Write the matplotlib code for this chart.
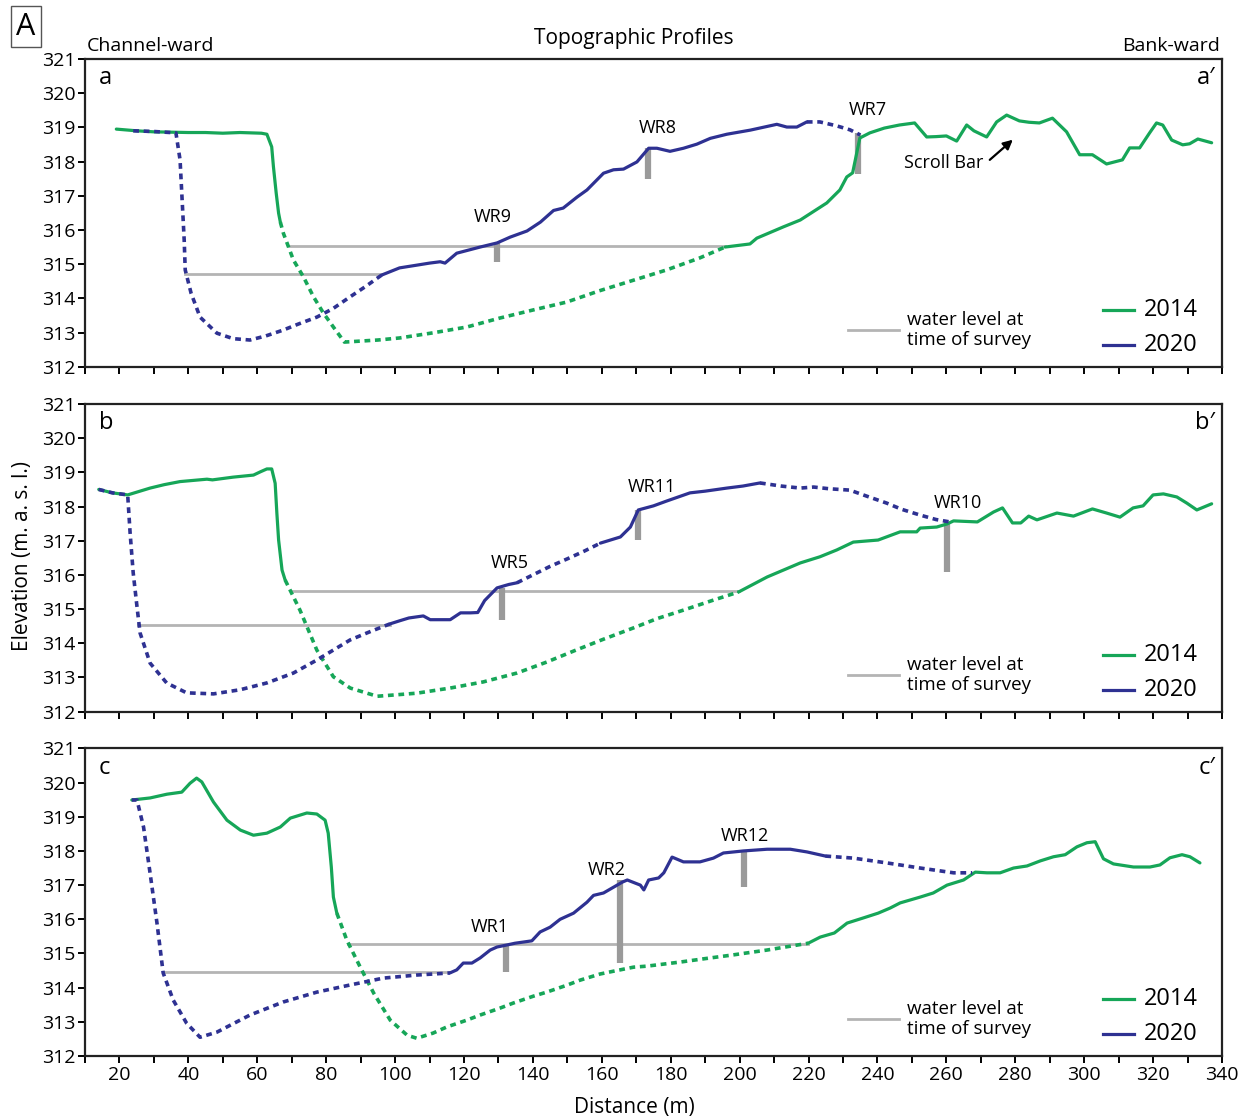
import matplotlib
matplotlib.use("Agg")
import matplotlib.pyplot as plt
import numpy as np

plt.rcParams['font.family'] = ['Open Sans', 'DejaVu Sans']

GREEN = '#16a658'
BLUE = '#2e3192'
WATER = '#b4b4b4'
BAR = '#9a9a9a'

# ---- panel a (2014 / 2020 surveys) ----
a14_x = [19.1, 25, 30, 35, 40, 45, 50, 55, 61.2, 62.8, 64.2, 64.7, 65.5, 66.2, 66.7,
         67.6, 70.5, 73.4, 76.3, 79.2, 82.1, 85.3, 95, 101.3, 111, 120.8, 130.3, 140.1,
         149.8, 159.3, 169.2, 178.8, 188.4, 195.8,
         203, 205, 212.7, 217.6, 225.3, 229.1, 231.1, 232.8, 234.9, 237.8, 242, 246.4,
         250.8, 254.3, 257, 260, 263, 265.9, 268, 271.7, 274.6, 277.5, 281.2, 284, 287,
         290.8, 294.9, 298.7, 302.4, 306.5, 311.1, 313.2, 316.1, 319, 321, 322.8, 325.4,
         328.6, 330.6, 333, 337]
a14_y = [318.95, 318.9, 318.87, 318.86, 318.85, 318.85, 318.83, 318.85, 318.83, 318.8,
         318.43, 317.85, 317.08, 316.49, 316.23,
         315.9, 315.12, 314.63, 314.05, 313.57, 313.16, 312.72, 312.78, 312.84, 312.99,
         313.16, 313.42, 313.66, 313.89, 314.22, 314.53, 314.83, 315.18, 315.5,
         315.59, 315.76, 316.09, 316.29, 316.79, 317.17, 317.55, 317.67, 318.69, 318.84,
         318.98, 319.07, 319.13, 318.72, 318.73, 318.75, 318.6, 319.07, 318.9, 318.72,
         319.16, 319.36, 319.19, 319.15, 319.13, 319.27, 318.87, 318.2, 318.2, 317.93,
         318.05, 318.4, 318.4, 318.84, 319.13, 319.07, 318.63, 318.49, 318.52, 318.66,
         318.55]
a14_dotted = [(66.7, 195.8)]

a20_x = [24, 30, 36.4, 37.6, 38.2, 38.8, 39.1, 40.8, 43.4, 48.3, 53, 57.9, 62.5, 67.5,
         72, 77.3, 82, 86.9, 91.5, 96.1,
         101.3, 106.3, 110, 113.1, 114.5, 117.9, 124.7, 129.6, 133.4, 138.3, 142.2, 146,
         148.8, 152.8, 155.7, 160.5, 163.4, 166.3, 170.2, 173.6, 176, 179.8, 183.7, 187.6,
         191.5, 196.3, 203.1, 210.8, 213.7, 216.6, 219.5,
         223.3, 228, 232, 235]
a20_y = [318.9, 318.88, 318.84, 318.05, 316.88, 315.7, 314.83, 314.15, 313.45, 312.98,
         312.82, 312.78, 312.9, 313.07, 313.25, 313.45, 313.7, 314.04, 314.35, 314.68,
         314.89, 314.97, 315.03, 315.07, 315.03, 315.32, 315.5, 315.62, 315.79, 315.97,
         316.23, 316.57, 316.64, 316.96, 317.17, 317.66, 317.76, 317.78, 317.99, 318.39,
         318.39, 318.3, 318.39, 318.51, 318.68, 318.8, 318.92, 319.09, 319.01, 319.01,
         319.16,
         319.16, 319.05, 318.93, 318.78]
a20_dotted = [(0, 96.1), (219.5, 400)]

a_water = [(69.2, 195.8, 315.52), (39.1, 96.1, 314.7)]
a_wr = [("WR9", 129.6, 315.62, 315.07), ("WR8", 173.4, 318.4, 317.49),
        ("WR7", 234.3, 318.84, 317.64)]
a_wr_text = [(128.4, 316.38), (176.1, 318.98), (237.3, 319.5)]

# ---- panel b ----
b14_x = [14, 18, 22.4, 28.9, 33, 37.6, 45.4, 47, 53, 58.9, 61, 62.8, 64.2, 65.2, 65.7,
         66.2, 67.2, 68.1,
         72.4, 77.3, 82.1, 87, 94.8, 100, 106.3, 116, 125.6, 135.4, 144, 152, 160,
         169.2, 176, 183.7, 192, 199.7,
         208, 217.6, 223.3, 228.2, 233, 240.2, 246.6, 251.4, 252.4, 257.2, 260.2, 262.1,
         269, 273.7, 276.3, 279.2, 281.6, 283.9, 286.3, 292.1, 296.9, 302.4, 306.5, 310.4,
         314.2, 317.1, 320, 323, 326.9, 329.8, 332.7, 337]
b14_y = [318.5, 318.4, 318.34, 318.54, 318.64, 318.73, 318.8, 318.78, 318.86, 318.92,
         319.02, 319.1, 319.1, 318.68, 317.8, 317.02, 316.14, 315.85,
         314.97, 313.8, 313.02, 312.69, 312.45, 312.49, 312.54, 312.69, 312.87, 313.13,
         313.45, 313.78, 314.1, 314.45, 314.72, 314.97, 315.25, 315.5,
         315.94, 316.35, 316.53, 316.73, 316.96, 317.02, 317.26, 317.26, 317.37, 317.4,
         317.49, 317.58, 317.55, 317.84, 317.96, 317.52, 317.52, 317.72, 317.61, 317.81,
         317.72, 317.93, 317.81, 317.69, 317.96, 318.02, 318.34, 318.37, 318.28, 318.1,
         317.9, 318.08]
b14_dotted = [(68.1, 199.7)]

b20_x = [14, 18, 22.4, 23.1, 24, 25.1, 26, 28.9, 33.7, 39.5, 47.3, 55, 62.8, 70.5, 77.3,
         87, 93, 98.6,
         101.4, 104, 108.2, 110.2, 116, 119, 121.9, 124, 126, 129.6, 133, 135.4,
         140, 145, 150, 155, 159.6,
         165.4, 168.3, 170.6, 175, 178.8, 185.6, 190, 196.3, 201, 205.9,
         212, 217.6, 221.5, 226, 232, 237, 242.7, 247, 252.4, 257, 261]
b20_y = [318.5, 318.4, 318.34, 317.23, 316.06, 315.07, 314.3, 313.42, 312.84, 312.55,
         312.52, 312.64, 312.84, 313.13, 313.51, 314.1, 314.35, 314.57,
         314.66, 314.74, 314.8, 314.69, 314.69, 314.89, 314.89, 314.9, 315.25,
         315.62, 315.72, 315.77,
         316.0, 316.25, 316.47, 316.7, 316.93,
         317.11, 317.4, 317.9, 318.02, 318.16, 318.4, 318.45, 318.54, 318.6, 318.69,
         318.6, 318.54, 318.57, 318.52, 318.48, 318.3, 318.1, 317.92, 317.75, 317.62,
         317.55]
b20_dotted = [(0, 98.6), (135.4, 159.6), (205.9, 400)]

b_water = [(70, 199.7, 315.53), (25.5, 98.6, 314.54)]
b_wr = [("WR5", 131, 315.62, 314.68), ("WR11", 170.6, 317.9, 317.02),
        ("WR10", 260.2, 317.55, 316.09)]
b_wr_text = [(133.4, 316.35), (174.6, 318.57), (263.3, 318.1)]

# ---- panel c ----
c14_x = [23.6, 28.9, 33.8, 38.1, 40.5, 42.4, 43.9, 47.3, 51.2, 55.1, 58.9, 62.8, 66.7,
         69.6, 74.4, 77.3, 79.7, 80.6, 81.5, 82.1, 83.1,
         86, 89.9, 93.8, 98.6, 103.5, 106.3, 111, 115, 120.8, 124.7, 130.4, 134.3, 140.1,
         144, 149.8, 153.7, 159.5, 163.3, 169.2, 173.1, 182.8, 190, 198.2, 207.9, 219.9,
         223.4, 227.5, 231.2, 235.9, 240.2, 243.7, 246.6, 252.4, 256.2, 260.2, 265,
         268.4, 271.8, 275.6, 279.5, 283.4, 287.3, 291.1, 294.5, 297.9, 300.8, 303.2,
         305.6, 308.5, 314.3, 319.1, 322, 324.9, 328.4, 330.7, 333.6]
c14_y = [319.49, 319.55, 319.66, 319.72, 319.98, 320.13, 320.02, 319.43, 318.9, 318.61,
         318.46, 318.52, 318.7, 318.96, 319.11, 319.08, 318.9, 318.52, 317.53, 316.65,
         316.18,
         315.39, 314.6, 313.84, 313.05, 312.61, 312.52, 312.67, 312.85, 313.05, 313.2,
         313.4, 313.55, 313.75, 313.87, 314.07, 314.22, 314.4, 314.48, 314.6, 314.63,
         314.75, 314.85, 314.96, 315.1, 315.3,
         315.48, 315.6, 315.89, 316.04, 316.18, 316.33, 316.48, 316.65, 316.77, 317.0,
         317.15, 317.38, 317.36, 317.36, 317.5, 317.56, 317.71, 317.83, 317.89, 318.12,
         318.24, 318.27, 317.77, 317.62, 317.53, 317.53, 317.59, 317.8, 317.89, 317.83,
         317.65]
c14_dotted = [(83.1, 219.9)]

c20_x = [23.6, 25.1, 27, 28.9, 30.9, 32.7, 35.6, 39.5, 43.4, 48.3, 57.9, 67.5, 77.3, 87,
         96.6, 106.3, 115.9,
         117.9, 119.8, 122.3, 124.7, 127.6, 129.6, 132.5, 134.8, 139.7, 142.1, 145, 147.9,
         151.8, 155.7, 157.6, 160.5, 166, 167.4, 171.2, 172.2, 173.6, 176.5, 178, 180.4,
         183.7, 188.5, 192.4, 195.3, 201.1, 208, 214.7, 219.6, 224.9,
         233, 242.7, 252.4, 262.1, 267.5]
c20_y = [319.49, 319.49, 318.7, 317.35, 315.89, 314.43, 313.64, 312.96, 312.55, 312.7,
         313.2, 313.58, 313.87, 314.08, 314.28, 314.37, 314.43,
         314.52, 314.72, 314.72, 314.87, 315.1, 315.19, 315.25, 315.3, 315.37, 315.63,
         315.77, 316.0, 316.18, 316.5, 316.7, 316.77, 317.09, 317.15, 317.0, 316.86,
         317.15, 317.21, 317.36, 317.82, 317.68, 317.68, 317.79, 317.94, 318.0, 318.05,
         318.05, 317.97, 317.85,
         317.79, 317.65, 317.5, 317.36, 317.36]
c20_dotted = [(0, 115.9), (224.9, 400)]

c_water = [(86.3, 219.9, 315.28), (32.7, 115.9, 314.46)]
c_wr = [("WR1", 132.3, 315.25, 314.46), ("WR2", 165.3, 317.15, 314.72),
        ("WR12", 201.3, 318.0, 316.95)]
c_wr_text = [(127.6, 315.78), (161.5, 317.44), (201.4, 318.44)]

y_ticks = list(range(312, 322))
x_major = list(range(20, 341, 20))
x_minor = list(range(10, 341, 10))


def draw_profile(ax, xs, ys, dotted, color, z):
    # split the profile into runs of solid / dotted segments
    xs = np.asarray(xs)
    ys = np.asarray(ys)
    mids = (xs[:-1] + xs[1:]) / 2
    is_dot = np.array([any(lo <= m <= hi for lo, hi in dotted) for m in mids])
    start = 0
    for i in range(1, len(is_dot) + 1):
        if i == len(is_dot) or is_dot[i] != is_dot[start]:
            seg = slice(start, i + 1)
            if is_dot[start]:
                ax.plot(xs[seg], ys[seg], color=color, lw=2.6,
                        ls=(0, (1.6, 1.3)), zorder=z, solid_capstyle='butt')
            else:
                ax.plot(xs[seg], ys[seg], color=color, lw=2.3, zorder=z + 0.5,
                        solid_capstyle='round', solid_joinstyle='round')
            start = i


def panel(ax, p14, p20, water, wrs, wr_text, letter, bottom):
    for x0, x1, lvl in water:
        ax.plot([x0, x1], [lvl, lvl], color=WATER, lw=2, zorder=2)
    for (name, x, top, bot), (tx, ty) in zip(wrs, wr_text):
        ax.plot([x, x], [bot, top], color=BAR, lw=4.5, solid_capstyle='butt', zorder=3)
        ax.text(tx, ty, name, ha='center', va='center', fontsize=13)
    draw_profile(ax, p14[0], p14[1], p14[2], GREEN, 4)
    draw_profile(ax, p20[0], p20[1], p20[2], BLUE, 5)

    # in-panel key
    tr = ax.transAxes
    ax.plot([0.671, 0.716], [0.119, 0.119], color=WATER, lw=2, transform=tr)
    ax.text(0.723, 0.152, "water level at", transform=tr, fontsize=13.5,
            va='center', ha='left')
    ax.text(0.723, 0.088, "time of survey", transform=tr, fontsize=13.5,
            va='center', ha='left')
    ax.plot([0.895, 0.923], [0.184, 0.184], color=GREEN, lw=2.3, transform=tr)
    ax.plot([0.895, 0.923], [0.071, 0.071], color=BLUE, lw=2.3, transform=tr)
    ax.text(0.931, 0.184, "2014", transform=tr, fontsize=17, va='center', ha='left')
    ax.text(0.931, 0.071, "2020", transform=tr, fontsize=17, va='center', ha='left')

    ax.text(0.012, 0.918, letter, transform=tr, fontsize=17, va='baseline', ha='left')
    ax.text(0.994, 0.918, letter + "\u2032", transform=tr, fontsize=17, va='baseline',
            ha='right')

    ax.set_xlim(10, 340)
    ax.set_ylim(312, 321)
    ax.set_yticks(y_ticks)
    ax.set_xticks(x_major)
    ax.set_xticks(x_minor, minor=True)
    ax.tick_params(axis='both', which='both', direction='out', length=5, width=1.4,
                   labelsize=14, pad=2)
    if not bottom:
        ax.tick_params(axis='x', which='both', labelbottom=False)
    for s in ax.spines.values():
        s.set_linewidth(1.6)
        s.set_color('#222222')


fig = plt.figure(figsize=(12.44, 11.2), dpi=100)
left, width, height = 0.0683, 0.914, 0.2747
ax_a = fig.add_axes([left, 0.6726, width, height])
ax_b = fig.add_axes([left, 0.3646, width, height])
ax_c = fig.add_axes([left, 0.0571, width, height])

panel(ax_a, (a14_x, a14_y, a14_dotted), (a20_x, a20_y, a20_dotted), a_water, a_wr,
      a_wr_text, "a", False)
panel(ax_b, (b14_x, b14_y, b14_dotted), (b20_x, b20_y, b20_dotted), b_water, b_wr,
      b_wr_text, "b", False)
panel(ax_c, (c14_x, c14_y, c14_dotted), (c20_x, c20_y, c20_dotted), c_water, c_wr,
      c_wr_text, "c", True)

ax_a.text(259.3, 317.95, "Scroll Bar", ha='center', va='center', fontsize=13)
ax_a.annotate("", xy=(279.3, 318.64), xytext=(272.6, 318.05),
              arrowprops=dict(arrowstyle='-|>', color='black', lw=1.6,
                              mutation_scale=14, shrinkA=0, shrinkB=0))

fig.text(0.5096, 0.966, "Topographic Profiles", ha='center', va='center', fontsize=15)
fig.text(0.070, 0.959, "Channel-ward", ha='left', va='center', fontsize=14)
fig.text(0.981, 0.959, "Bank-ward", ha='right', va='center', fontsize=14)
fig.text(0.021, 0.976, "A", ha='center', va='center', fontsize=22,
         bbox=dict(boxstyle='square,pad=0.18', fc='white', ec='#555555', lw=1))
fig.text(0.0177, 0.504, "Elevation (m. a. s. l.)", rotation=90, ha='center',
         va='center', fontsize=15)
fig.text(0.51, 0.0116, "Distance (m)", ha='center', va='center', fontsize=15)

fig.savefig("out.png", dpi=100)
